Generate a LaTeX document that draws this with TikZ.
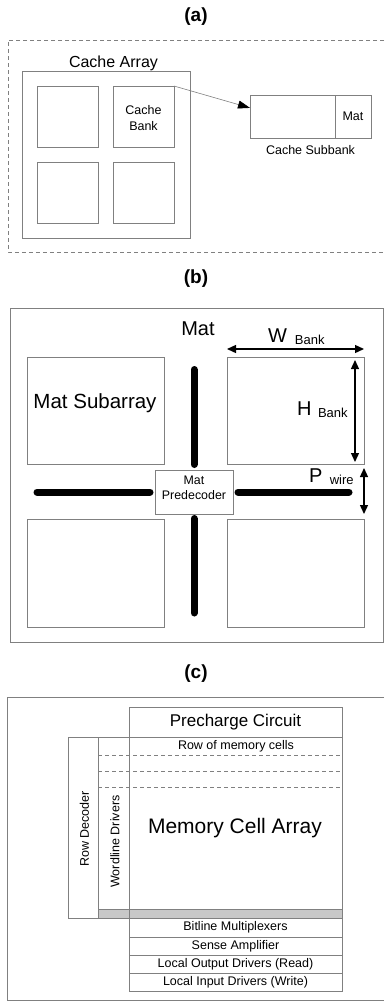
\documentclass[tikz,border=0pt]{standalone}
\usepackage{fontspec}
\setmainfont{Liberation Sans}
\usetikzlibrary{arrows.meta,calc}
\definecolor{lg}{RGB}{128,128,128}
\definecolor{bandgray}{RGB}{200,200,200}
\newcommand{\fsz}[1]{\fontsize{#1}{#1}\selectfont}
\tikzset{
  box/.style={draw=lg, line width=0.9pt, inner sep=0pt, outer sep=0pt, align=center},
  wh/.style 2 args={minimum width=#1pt, minimum height=#2pt},
  txt/.style={inner sep=0pt, outer sep=0pt},
  dframe/.style={draw=lg, line width=0.8pt, dash pattern=on 4pt off 3pt},
  frame/.style={draw=lg, line width=0.9pt},
  dline/.style={draw=lg, line width=0.8pt, dash pattern=on 4pt off 3pt},
  bar/.style={line width=7pt, line cap=round},
  dim/.style={line width=1.3pt, {Triangle[length=9pt,width=8pt]}-{Triangle[length=9pt,width=8pt]}},
  ttl/.style={font=\fsz{19}\bfseries, inner sep=0pt}
}
\begin{document}
\begin{tikzpicture}[x=1pt,y=-1pt]
\useasboundingbox (0,0) rectangle (384,1002);
% ---------------- (a)
\node[ttl] (ta) at (196,17) {(a)};
\draw[dframe] (384,40) -- (8,40) -- (8,252) -- (384,252);
\node[box,wh={168}{167}] (ca) at (106,154.5) {};
\node[txt,font=\fsz{16},anchor=base] (cal) at (113.5,67.5) {Cache Array};
\node[box,wh={61}{61}] (b1) at (67.5,116.5) {};
\node[box,wh={61}{61}] (cb) at (143.5,116.5) {};
\node[box,wh={61}{61}] (b3) at (67.5,192.5) {};
\node[box,wh={61}{61}] (b4) at (143.5,192.5) {};
\node[txt,font=\fontsize{12.5}{16}\selectfont,align=center] (cbl) at (143.5,118) {Cache\\Bank};
\node[box,wh={121}{43}] (sb) at (310.5,116.5) {};
\node[box,wh={36}{43},font=\fsz{12.5}] (sm) at (353,116.5) {Mat};
\node[txt,font=\fsz{12.5}] (sbl) at (310.5,150) {Cache Subbank};
\draw[lg, line width=0.6pt, -{Triangle[length=12pt,width=8pt,color=black]}] (cb.north east) -- ($(sb.north west)!0.3!(sb.south west)$);
% ---------------- (b)
\node[ttl] (tb) at (196,279) {(b)};
\node[box,wh={373}{334}] (bf) at (196.5,475) {};
\node[txt,font=\fsz{20}] (mat) at (198,329) {Mat};
\node[box,wh={137}{107}] (tl) at (95.5,410.5) {};
\node[box,wh={137}{107}] (tr) at (295.5,410.5) {};
\node[box,wh={137}{108}] (bl) at (95.5,573) {};
\node[box,wh={137}{108}] (br) at (295.5,573) {};
\node[txt,font=\fsz{20.5},anchor=base] (msl) at (95,408) {Mat Subarray};
\node[box,wh={78}{44}] (pd) at (194,492) {};
\node[txt,font=\fontsize{12.4}{15}\selectfont,align=center] (pdl) at (194,487.5) {Mat\\Predecoder};
\coordinate (bt) at (194,369.5);
\coordinate (bb) at (194,613);
\coordinate (bw) at (37,492);
\coordinate (be) at (349,492);
\draw[bar] ([yshift=5.5pt]pd.north) -- (bt);
\draw[bar] ([yshift=-4.5pt]pd.south) -- (bb);
\draw[bar] ([xshift=-5pt]pd.west) -- (bw);
\draw[bar] ([xshift=5pt]pd.east) -- (be);
\draw[dim] ([yshift=8pt]tr.north west) -- ([yshift=8pt]tr.north east);
\draw[dim, shorten <=3pt, shorten >=2pt] ([xshift=-9pt]tr.north east) -- ([xshift=-9pt]tr.south east);
\draw[dim] ([yshift=-4pt]tr.south east) -- ([yshift=5pt]br.north east);
\node[txt,font=\fsz{20},anchor=base west] (wl) at (268,342) {W\hspace{8pt}\raisebox{-2pt}{\fsz{13}Bank}};
\node[txt,font=\fsz{20},anchor=base west] (hl) at (297,415) {H\hspace{6.6pt}\raisebox{-2.5pt}{\fsz{13}Bank}};
\node[txt,font=\fsz{20},anchor=base west] (pl) at (309,482) {P\hspace{7.5pt}\raisebox{-2pt}{\fsz{13}wire}};
% ---------------- (c)
\node[ttl] (tc) at (196,673.5) {(c)};
\draw[frame] (384,697) -- (7,697) -- (7,1000.5) -- (384,1000.5);
\node[box,fill=bandgray,wh={244}{9}] (gb) at (220,913.5) {};
\node[box,wh={213}{30},font=\fsz{17}] (pc) at (235.5,722) {Precharge Circuit};
\node[box,wh={213}{172}] (mca) at (235.5,823) {};
\node[box,wh={30}{181}] (rd) at (83,827.5) {};
\node[box,wh={31}{172}] (wd) at (113.5,823) {};
\node[box,wh={213}{19},font=\fsz{12.5}] (bm) at (235.5,927.5) {Bitline Multiplexers};
\node[box,wh={213}{18},font=\fsz{12.5}] (sa) at (235.5,946) {Sense Amplifier};
\node[box,wh={213}{18},font=\fsz{12.5}] (lo) at (235.5,964) {Local Output Drivers (Read)};
\node[box,wh={213}{18},font=\fsz{12.5}] (li) at (235.5,982) {Local Input Drivers (Write)};
\draw[lg, line width=0.9pt] (mca.south west) -- (bm.north west);
\draw[dline] ($(wd.north west)+(0,18)$) -- ($(mca.north east)+(0,18)$);
\draw[dline] ($(wd.north west)+(0,34)$) -- ($(mca.north east)+(0,34)$);
\draw[dline] ($(wd.north west)+(0,50)$) -- ($(mca.north east)+(0,50)$);
\node[txt,font=\fsz{12.5},anchor=base] (rmc) at (236,749) {Row of memory cells};
\node[txt,font=\fsz{21},anchor=base] (mcl) at (235,833) {Memory Cell Array};
\node[txt,font=\fsz{12.5},rotate=90] (rdl) at (84.5,829) {Row Decoder};
\node[txt,font=\fsz{12.5},rotate=90] (wdl) at (115,841.5) {Wordline Drivers};
\end{tikzpicture}
\end{document}
